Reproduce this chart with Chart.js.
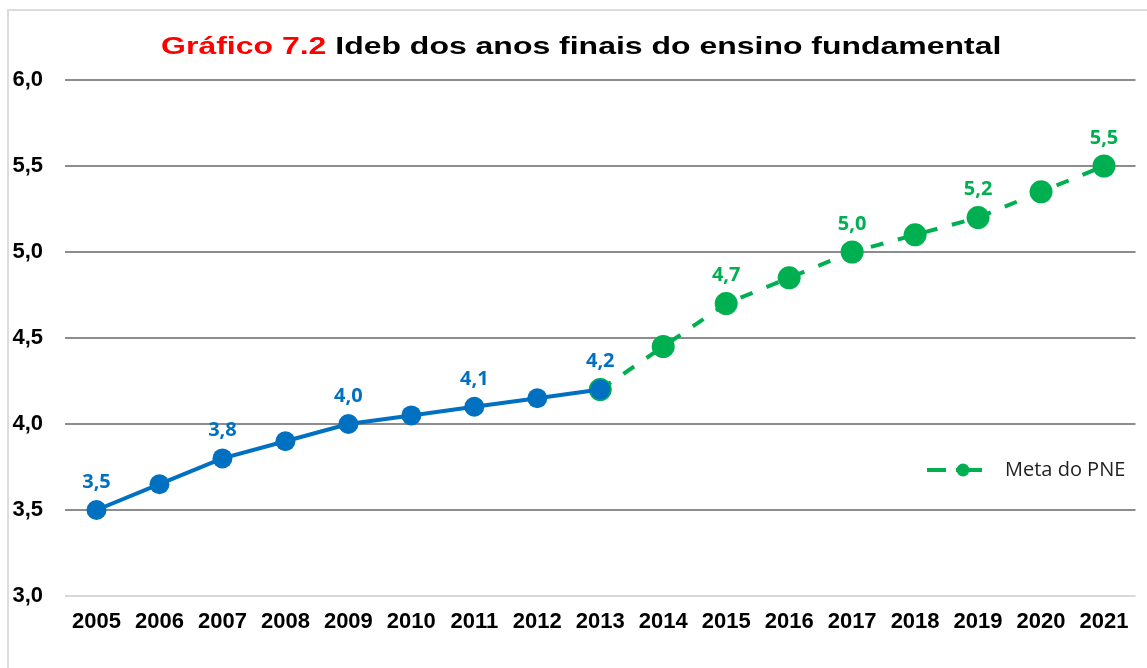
<!DOCTYPE html>
<html>
<head>
<meta charset="utf-8">
<script src="https://cdn.jsdelivr.net/npm/chart.js@4/dist/chart.umd.min.js"></script>
<style>
    html, body { margin: 0; padding: 0; background: #fff; }
    #wrap { position: relative; width: 1147px; height: 668px; overflow: hidden; }
    #frame { position: absolute; left: 7px; top: 9px; width: 1200px; height: 700px; border: 2px solid #dcdcdc; box-sizing: border-box; }
    #title { position: absolute; left: 0; width: 1162px; top: 32px; text-align: center; white-space: nowrap;
             font: bold 23px "Liberation Sans", Arial, sans-serif; color: #000; line-height: 28px; }
    #title .inner { display: inline-block; transform: scaleX(1.39); transform-origin: center; }
    #title .red { color: #ff0000; }
    canvas { position: absolute; left: 0; top: 0; }
</style>
</head>
<body>
<div id="wrap">
    <div id="frame"></div>
    <canvas id="chart" width="1147" height="668"></canvas>
    <div id="title"><span class="inner"><span class="red">Gráfico 7.2</span> Ideb dos anos finais do ensino fundamental</span></div>
</div>
<script>
const years = ['2005', '2006', '2007', '2008', '2009', '2010', '2011', '2012', '2013',
    '2014', '2015', '2016', '2017', '2018', '2019', '2020', '2021'];
const observado = [3.5, 3.65, 3.8, 3.9, 4.0, 4.05, 4.1, 4.15, 4.2,
    null, null, null, null, null, null, null, null];
const metaPNE = [null, null, null, null, null, null, null, null, 4.2,
    4.45, 4.7, 4.85, 5.0, 5.1, 5.2, 5.35, 5.5];
const observadoLabelYears = ['2005', '2007', '2009', '2011', '2013'];
const metaLabelYears = ['2015', '2017', '2019', '2021'];
const yTicks = [3.0, 3.5, 4.0, 4.5, 5.0, 5.5, 6.0];

const BLUE = '#0070c0';
const GREEN = '#00b050';

const fmt = v => v.toFixed(1).replace('.', ',');

const pointLabels = {
    id: 'pointLabels',
    afterDatasetsDraw(chart) {
        const ctx = chart.ctx;
        const sets = [[0, observadoLabelYears, BLUE], [1, metaLabelYears, GREEN]];
        ctx.save();
        ctx.font = 'bold 20px "Open Sans", sans-serif';
        ctx.textAlign = 'center';
        ctx.textBaseline = 'middle';
        sets.forEach(([di, labelYears, color]) => {
            const meta = chart.getDatasetMeta(di);
            const data = chart.data.datasets[di].data;
            ctx.fillStyle = color;
            labelYears.forEach(y => {
                const i = years.indexOf(y);
                const pt = meta.data[i];
                if (!pt || data[i] == null) return;
                ctx.fillText(fmt(data[i]), pt.x, pt.y - 28);
            });
        });
        ctx.restore();
    }
};

const metaLegend = {
    id: 'metaLegend',
    afterDraw(chart) {
        const ctx = chart.ctx;
        const y = 470;
        ctx.save();
        ctx.strokeStyle = GREEN;
        ctx.fillStyle = GREEN;
        ctx.lineWidth = 4;
        ctx.beginPath();
        ctx.moveTo(927, y); ctx.lineTo(946, y);
        ctx.moveTo(956, y); ctx.lineTo(982, y);
        ctx.stroke();
        ctx.beginPath();
        ctx.arc(963, y, 6.5, 0, Math.PI * 2);
        ctx.fill();
        ctx.fillStyle = '#222';
        ctx.font = '20px "Open Sans", sans-serif';
        ctx.textAlign = 'left';
        ctx.textBaseline = 'middle';
        ctx.fillText(chart.data.datasets[1].label, 1005, y);
        ctx.restore();
    }
};

new Chart(document.getElementById('chart').getContext('2d'), {
    type: 'line',
    data: {
        labels: years,
        datasets: [
            {
                label: 'Ideb observado',
                data: observado,
                borderColor: BLUE,
                backgroundColor: BLUE,
                borderWidth: 4,
                pointRadius: 10,
                pointBorderWidth: 0,
                tension: 0,
                spanGaps: false,
            },
            {
                label: 'Meta do PNE',
                data: metaPNE,
                borderColor: GREEN,
                backgroundColor: GREEN,
                borderWidth: 4,
                borderDash: [13, 15],
                pointRadius: 11.5,
                pointBorderWidth: 0,
                tension: 0,
                spanGaps: false,
            },
        ],
    },
    options: {
        responsive: false,
        animation: false,
        layout: { padding: { top: 80, left: 12, right: 4, bottom: 32 } },
        plugins: {
            legend: { display: false },
            title: { display: false },
            tooltip: { enabled: false },
        },
        scales: {
            x: {
                offset: true,
                grid: { display: false, drawTicks: false },
                border: { display: false },
                afterFit: axis => {
                    axis.height = 40;
                    axis.paddingLeft = 0;
                    axis.paddingRight = 0;
                },
                ticks: {
                    color: '#000',
                    padding: 13,
                    maxRotation: 0,
                    font: { family: '"Liberation Sans", Arial, sans-serif', size: 22, weight: 'bold' },
                },
            },
            y: {
                min: 3,
                max: 6,
                afterBuildTicks: axis => { axis.ticks = yTicks.map(v => ({ value: v })); },
                afterFit: axis => { axis.width = 53; },
                grid: {
                    drawTicks: false,
                    lineWidth: 2,
                    color: ctx => ctx.tick && ctx.tick.value === 3 ? '#d9d9d9' : '#8c8c8c',
                },
                border: { display: false },
                ticks: {
                    color: '#000',
                    padding: 22,
                    callback: v => fmt(v),
                    font: { family: '"Liberation Sans", Arial, sans-serif', size: 22, weight: 'bold' },
                },
            },
        },
    },
    plugins: [pointLabels, metaLegend],
});
</script>
</body>
</html>
